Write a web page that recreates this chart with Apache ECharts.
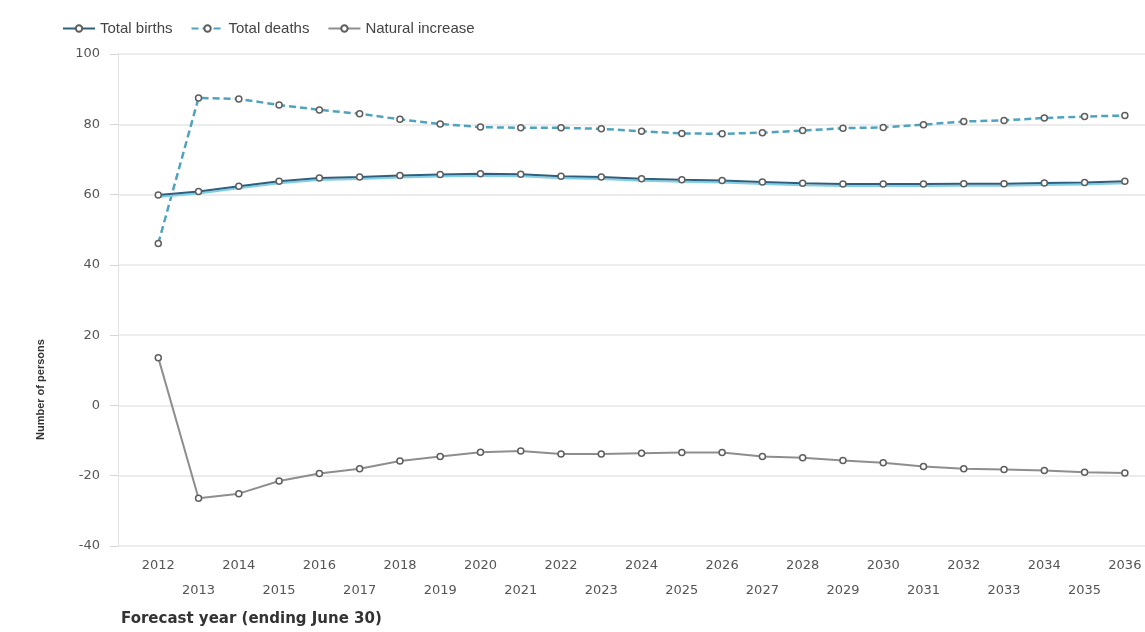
<!DOCTYPE html>
<html>
<head>
<meta charset="utf-8">
<script src="https://cdn.jsdelivr.net/npm/echarts@6/dist/echarts.min.js"></script>
<style>
  html, body { margin: 0; padding: 0; background: #fff; }
  #chart { width: 1145px; height: 632px; }
</style>
</head>
<body>
<div id="chart"></div>
<script>
const years = [2012, 2013, 2014, 2015, 2016, 2017, 2018, 2019, 2020, 2021, 2022, 2023, 2024,
  2025, 2026, 2027, 2028, 2029, 2030, 2031, 2032, 2033, 2034, 2035, 2036]
const totalBirths = [59.9, 60.9, 62.4, 63.8, 64.7, 65.0, 65.4, 65.7, 65.9, 65.8, 65.2, 65.0, 64.5,
  64.2, 64.0, 63.6, 63.2, 63.0, 63.0, 63.0, 63.1, 63.1, 63.3, 63.4, 63.8]
const totalDeaths = [46.1, 87.5, 87.2, 85.5, 84.1, 83.0, 81.4, 80.1, 79.2, 79.0, 79.0, 78.7, 78.0,
  77.4, 77.3, 77.6, 78.2, 78.9, 79.1, 79.9, 80.8, 81.1, 81.8, 82.2, 82.5]
const naturalIncrease = [13.6, -26.4, -25.1, -21.5, -19.4, -18.0, -15.8, -14.5, -13.3, -13.0, -13.8, -13.8, -13.6,
  -13.4, -13.4, -14.5, -14.9, -15.7, -16.3, -17.4, -18.0, -18.2, -18.5, -19.0, -19.2]

const chart = echarts.init(document.getElementById('chart'))

const pairs = arr => arr.map((v, i) => [years[i], v])

// hollow grey markers like the original
const markerStyle = {
  color: '#fff',
  borderColor: '#5e5e5e',
  borderWidth: 1.5
}

const option = {
  backgroundColor: '#fff',
  animation: false,
  textStyle: { fontFamily: 'DejaVu Sans' },
  legend: {
    left: 57,
    top: 16,
    itemWidth: 32,
    itemHeight: 8,
    itemGap: 18,
    textStyle: { fontFamily: 'Liberation Sans', fontSize: 15, color: '#444' },
    data: ['Total births', 'Total deaths', 'Natural increase']
  },
  grid: { left: 118, right: 0, top: 54, bottom: 86 },
  xAxis: {
    type: 'value',
    min: 2011,
    max: 2036.5,
    interval: 1,
    axisLine: { show: false },
    axisTick: { show: false },
    splitLine: { show: false },
    axisLabel: {
      color: '#555',
      fontSize: 13,
      lineHeight: 25,
      margin: 7,
      showMaxLabel: false,
      formatter: v => {
        if (v < years[0] || v > years[years.length - 1] || v % 1 !== 0) return ''
        return (v - years[0]) % 2 ? '\n' + v : String(v)
      }
    }
  },
  yAxis: {
    type: 'value',
    min: -40,
    max: 100,
    interval: 20,
    axisLine: { show: true, lineStyle: { color: '#e2e2e2', width: 1 } },
    axisTick: { show: true, length: 8, lineStyle: { color: '#d6d6d6' } },
    splitLine: { lineStyle: { color: '#e6e6e6', width: 1.5 } },
    axisLabel: { color: '#555', fontSize: 13, margin: 18 }
  },
  graphic: [
    {
      type: 'text',
      left: 121,
      top: 612,
      style: {
        text: 'Forecast year (ending June 30)',
        fontFamily: 'DejaVu Sans',
        fontSize: 15,
        fontWeight: 'bold',
        fill: '#333'
      }
    },
    {
      type: 'text',
      x: 35,
      y: 440,
      rotation: Math.PI / 2,
      style: {
        text: 'Number of persons',
        fontFamily: 'Liberation Sans',
        fontSize: 11,
        fontWeight: 'bold',
        fill: '#333'
      }
    }
  ],
  series: [
    {
      name: 'Total births',
      type: 'line',
      data: pairs(totalBirths),
      symbol: 'circle',
      symbolSize: 6,
      showAllSymbol: true,
      lineStyle: {
        color: '#2f5f7c',
        width: 2,
        shadowColor: '#7fd0e6',
        shadowOffsetY: 2,
        shadowBlur: 0
      },
      itemStyle: markerStyle,
      z: 3
    },
    {
      name: 'Total deaths',
      type: 'line',
      data: pairs(totalDeaths),
      symbol: 'circle',
      symbolSize: 6,
      showAllSymbol: true,
      lineStyle: { color: '#4fa3bd', width: 2.5, type: [7, 4] },
      itemStyle: markerStyle,
      z: 2
    },
    {
      name: 'Natural increase',
      type: 'line',
      data: pairs(naturalIncrease),
      symbol: 'circle',
      symbolSize: 6,
      showAllSymbol: true,
      lineStyle: { color: '#8e8e8e', width: 2 },
      itemStyle: markerStyle,
      z: 2
    }
  ]
}

chart.setOption(option)
</script>
</body>
</html>
